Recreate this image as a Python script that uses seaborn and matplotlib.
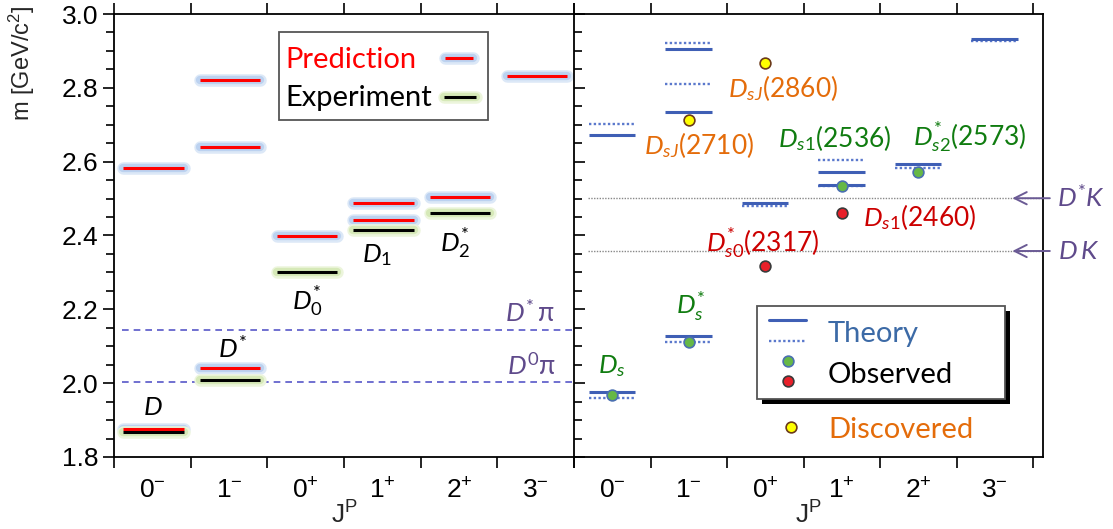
import numpy as np
import pandas as pd
import seaborn as sns
import matplotlib.pyplot as plt
from matplotlib.patches import Rectangle
from matplotlib.ticker import MultipleLocator, FormatStrFormatter
import matplotlib.patheffects as pe

# J^P columns, same for both panels
jp_order = ['0-', '1-', '0+', '1+', '2+', '3-']
jp_ticklabels = [r'$\mathregular{0^{-}}$', r'$\mathregular{1^{-}}$', r'$\mathregular{0^{+}}$',
                 r'$\mathregular{1^{+}}$', r'$\mathregular{2^{+}}$', r'$\mathregular{3^{-}}$']

# left panel: D mesons
pred_jp = ['0-', '0-', '1-', '1-', '1-', '0+', '1+', '1+', '2+', '3-']
pred_mass = [1.877, 2.582, 2.040, 2.640, 2.822, 2.400, 2.441, 2.489, 2.503, 2.831]
exp_jp = ['0-', '1-', '0+', '1+', '2+']
exp_mass = [1.867, 2.009, 2.300, 2.415, 2.460]
d_names = [r'$\mathit{D}$', r'$\mathit{D^{*}}$', r'$\mathit{D_{0}^{*}}$',
           r'$\mathit{D_{1}}$', r'$\mathit{D_{2}^{*}}$']
dpi_mass = [2.004, 2.145]
dpi_names = [r'$\mathit{D}^{\mathrm{0}}\mathrm{\pi}$', r'$\mathit{D}^{*}\,\mathrm{\pi}$']

# right panel: Ds mesons
theory_jp = ['0-', '0-', '0-', '0-', '1-', '1-', '1-', '1-', '1-', '1-',
             '0+', '0+', '1+', '1+', '1+', '1+', '2+', '2+', '3-', '3-']
theory_mass = [1.977, 1.961, 2.673, 2.702, 2.129, 2.111, 2.734, 2.811, 2.906, 2.921,
               2.487, 2.481, 2.538, 2.533, 2.573, 2.604, 2.593, 2.584, 2.931, 2.926]
theory_style = ['solid', 'dotted'] * 10
ds_jp = ['0-', '1-', '1+', '2+', '0+', '1+', '1-', '0+']
ds_mass = [1.968, 2.112, 2.535, 2.572, 2.317, 2.460, 2.712, 2.868]
ds_kind = ['observed', 'observed', 'observed', 'observed', 'unexpected', 'unexpected',
           'discovered', 'discovered']
ds_names = [r'$\mathit{D_{s}}$', r'$\mathit{D_{s}^{*}}$', r'$\mathit{D_{s1}}$(2536)',
            r'$\mathit{D_{s2}^{*}}$(2573)', r'$\mathit{D_{s0}^{*}}$(2317)', r'$\mathit{D_{s1}}$(2460)',
            r'$\mathit{D_{sJ}}$(2710)', r'$\mathit{D_{sJ}}$(2860)']
dk_mass = [2.358, 2.501]
dk_names = [r'$\mathit{D\,K}$', r'$\mathit{D^{*}K}$']

pred = pd.DataFrame({'x': [jp_order.index(j) for j in pred_jp], 'mass': pred_mass})
exp = pd.DataFrame({'x': [jp_order.index(j) for j in exp_jp], 'mass': exp_mass})
theory = pd.DataFrame({'x': [jp_order.index(j) for j in theory_jp], 'mass': theory_mass,
                       'style': theory_style})
ds = pd.DataFrame({'x': [jp_order.index(j) + 0.5 for j in ds_jp], 'mass': ds_mass,
                   'kind': ds_kind, 'name': ds_names})

sns.set_theme(style='ticks')
plt.rcParams['font.family'] = ['Lato', 'DejaVu Sans']
plt.rcParams['mathtext.fontset'] = 'custom'
plt.rcParams['mathtext.rm'] = 'Lato'
plt.rcParams['mathtext.it'] = 'Lato:italic'
plt.rcParams['mathtext.fallback'] = 'stixsans'
plt.rcParams['axes.edgecolor'] = 'black'
plt.rcParams['xtick.color'] = 'black'
plt.rcParams['ytick.color'] = 'black'

RED = '#ff0000'
PURPLE = '#5f4a8b'
DASH = '#5858c8'
THEORY = '#3f5fb5'
THEORY_DOT = '#5a78cc'
GREEN_TXT = '#107c10'
RED_TXT = '#cc0000'
ORANGE = '#e46c0a'
dot_style = {'observed': ('#66b846', '#4a6fb0'),
             'unexpected': ('#e8202a', '#3a3a3a'),
             'discovered': ('#ffff00', '#6b3a1a')}
label_color = {'observed': GREEN_TXT, 'unexpected': RED_TXT, 'discovered': ORANGE}
blue_glow = [('#dce8f7', 9), ('#bcd2f0', 6)]
green_glow = [('#ecf5dc', 9), ('#d6e9b8', 6)]

fig = plt.figure(figsize=(11.13, 5.29), dpi=100)
ax1 = fig.add_axes([114 / 1113, 72 / 529, 460 / 1113, 443 / 529])
ax2 = fig.add_axes([574 / 1113, 72 / 529, 469 / 1113, 443 / 529])


def levels(ax, df, x0, x1, color, lw, glow=(), **kw):
    for gc, gw in glow:
        ax.hlines(df['mass'], df['x'] + x0, df['x'] + x1, colors=gc, lw=gw,
                  capstyle='round', zorder=2)
    ax.hlines(df['mass'], df['x'] + x0, df['x'] + x1, colors=color, lw=lw, zorder=3, **kw)


def glow_fx(glow):
    return [pe.Stroke(linewidth=w, foreground=c, capstyle='round') for c, w in glow] + [pe.Normal()]


# ---- left panel ----
levels(ax1, pred, 0.12, 0.91, RED, 2.2, blue_glow)
levels(ax1, exp, 0.12, 0.91, 'black', 2.2, green_glow)
for y, name, (tx, ty) in zip(dpi_mass, dpi_names, [(5.12, 2.023), (5.10, 2.167)]):
    ax1.axhline(y, xmin=0.1 / 6, color=DASH, lw=1.2, ls=(0, (4, 3)), zorder=1)
    ax1.text(tx, ty, name, color=PURPLE, fontsize=19, va='baseline')
for name, (tx, ty) in zip(d_names, [(0.38, 1.914), (1.36, 2.069), (2.32, 2.199),
                                    (3.24, 2.327), (4.25, 2.357)]):
    ax1.text(tx, ty, name, fontsize=19, va='baseline', color='black')


def px1(x, y):
    return ((x - 114) / 460, (457 - y) / 443)


def px2(x, y):
    return ((x - 574) / 469, (457 - y) / 443)


# legend of the left panel
ax1.add_patch(Rectangle(px1(279, 120), 209 / 460, 88 / 443, transform=ax1.transAxes,
                        facecolor='white', edgecolor='#555555', lw=1.3, zorder=8))
for txt, yy, col, x0, x1, hy, glow in [('Prediction', 68, RED, 445, 473, 58, blue_glow),
                                       ('Experiment', 106, 'black', 444, 476, 97, green_glow)]:
    ax1.text(*px1(285, yy), txt, transform=ax1.transAxes, color=col, fontsize=21,
             va='baseline', zorder=9)
    (a0, b0), (a1, _) = px1(x0, hy), px1(x1, hy)
    ax1.plot([a0, a1], [b0, b0], transform=ax1.transAxes, color=col, lw=2.2,
             solid_capstyle='butt', path_effects=glow_fx(glow), zorder=9)

# ---- right panel ----
solid = theory[theory['style'] == 'solid']
dotted = theory[theory['style'] == 'dotted']
levels(ax2, dotted, 0.19, 0.80, THEORY_DOT, 1.7, linestyles=[(0, (1, 1))])
levels(ax2, solid, 0.19, 0.80, THEORY, 2.2)
for y in dk_mass:
    ax2.hlines(y, 0.18, 6.13, colors='#888888', lw=1.0, linestyles=[(0, (1, 1))], zorder=1)
for kind, grp in ds.groupby('kind'):
    fc, ec = dot_style[kind]
    sns.scatterplot(data=grp, x='x', y='mass', ax=ax2, s=60, color=fc, edgecolor=ec,
                    linewidth=1.2, zorder=5, legend=False)
ds_pos = [(0.31, 2.028), (1.33, 2.186), (2.67, 2.640), (4.43, 2.645), (1.725, 2.357),
          (3.78, 2.425), (0.915, 2.621), (2.01, 2.776)]
for (_, row), (tx, ty) in zip(ds.iterrows(), ds_pos):
    ax2.text(tx, ty, row['name'], color=label_color[row['kind']], fontsize=19,
             va='baseline', zorder=6)
for y, name, (tx, ty) in zip(dk_mass, dk_names, [(6.33, 2.335), (6.31, 2.477)]):
    ax2.annotate('', xy=(5.73, y), xytext=(6.22, y), annotation_clip=False,
                 arrowprops=dict(arrowstyle='->', color='#6b5b95', lw=1.4,
                                 mutation_scale=22, shrinkA=0, shrinkB=0))
    ax2.text(tx, ty, name, color=PURPLE, fontsize=19, va='baseline', clip_on=False)

# legend of the right panel (the last entry sits outside the box)
ax2.add_patch(Rectangle(px2(762, 404), 248 / 469, 93 / 443, transform=ax2.transAxes,
                        facecolor='black', edgecolor='none', zorder=7))
ax2.add_patch(Rectangle(px2(757, 399), 248 / 469, 93 / 443, transform=ax2.transAxes,
                        facecolor='white', edgecolor='#555555', lw=1.3, zorder=8))
for yy, col, ls, lw in [(320, THEORY, '-', 2.2), (341, THEORY_DOT, (0, (1, 1)), 1.7)]:
    (a0, b0), (a1, _) = px2(769, yy), px2(806, yy)
    ax2.plot([a0, a1], [b0, b0], transform=ax2.transAxes, color=col, ls=ls, lw=lw, zorder=9)
for (xx, yy), kind in [((788, 361), 'observed'), ((788, 381), 'unexpected'),
                       ((791, 427), 'discovered')]:
    fc, ec = dot_style[kind]
    ax2.scatter(*px2(xx, yy), transform=ax2.transAxes, s=60, color=fc, edgecolor=ec,
                linewidth=1.2, zorder=9, clip_on=False)
for txt, yy, col in [('Theory', 342, '#3c6aa6'), ('Observed', 383, 'black'),
                     ('Discovered', 438, ORANGE)]:
    ax2.text(*px2(828, yy), txt, transform=ax2.transAxes, color=col, fontsize=21,
             va='baseline', zorder=9)
ax2.set_ylabel('')

# ---- axes ----
for ax, xmax in [(ax1, 6), (ax2, 6 * 469 / 459)]:
    ax.set_xlim(0, xmax)
    ax.set_ylim(1.8, 3.0)
    ax.set_xticks(range(7))
    ax.set_xticklabels([])
    ax.set_xticks(np.arange(6) + 0.5, jp_ticklabels, minor=True)
    ax.tick_params(axis='x', which='major', direction='out', length=8, width=1.2,
                   top=True, bottom=True)
    ax.tick_params(axis='x', which='minor', length=0, pad=15, labelsize=19,
                   labelfontfamily='Liberation Sans')
    ax.yaxis.set_major_locator(MultipleLocator(0.2))
    ax.yaxis.set_minor_locator(MultipleLocator(0.05))
    for s in ax.spines.values():
        s.set_linewidth(1.3)
        s.set_color('black')
    ax.set_xlabel(r'$\mathregular{J^{P}}$', fontsize=19, fontfamily='Liberation Sans')
    ax.xaxis.set_label_coords(0.5, -0.1)

ax1.spines['right'].set_visible(False)
ax1.tick_params(axis='y', which='major', direction='out', length=8, width=1.2,
                labelsize=19, labelfontfamily='Liberation Sans', right=False)
ax1.tick_params(axis='y', which='minor', direction='out', length=6, width=1.2, right=False)
ax1.yaxis.set_major_formatter(FormatStrFormatter('%.1f'))
ax1.set_ylabel(r'm [GeV/c$\mathregular{^{2}}$]', fontsize=17, fontfamily='Liberation Sans',
               loc='top')
ax1.yaxis.set_label_coords(-0.167, 1.02)

ax2.tick_params(axis='y', which='major', direction='in', length=8, width=1.2,
                labelleft=False, right=False)
ax2.tick_params(axis='y', which='minor', direction='in', length=5.5, width=1.2, right=False)

plt.savefig('out.png', dpi=100)
plt.close()
